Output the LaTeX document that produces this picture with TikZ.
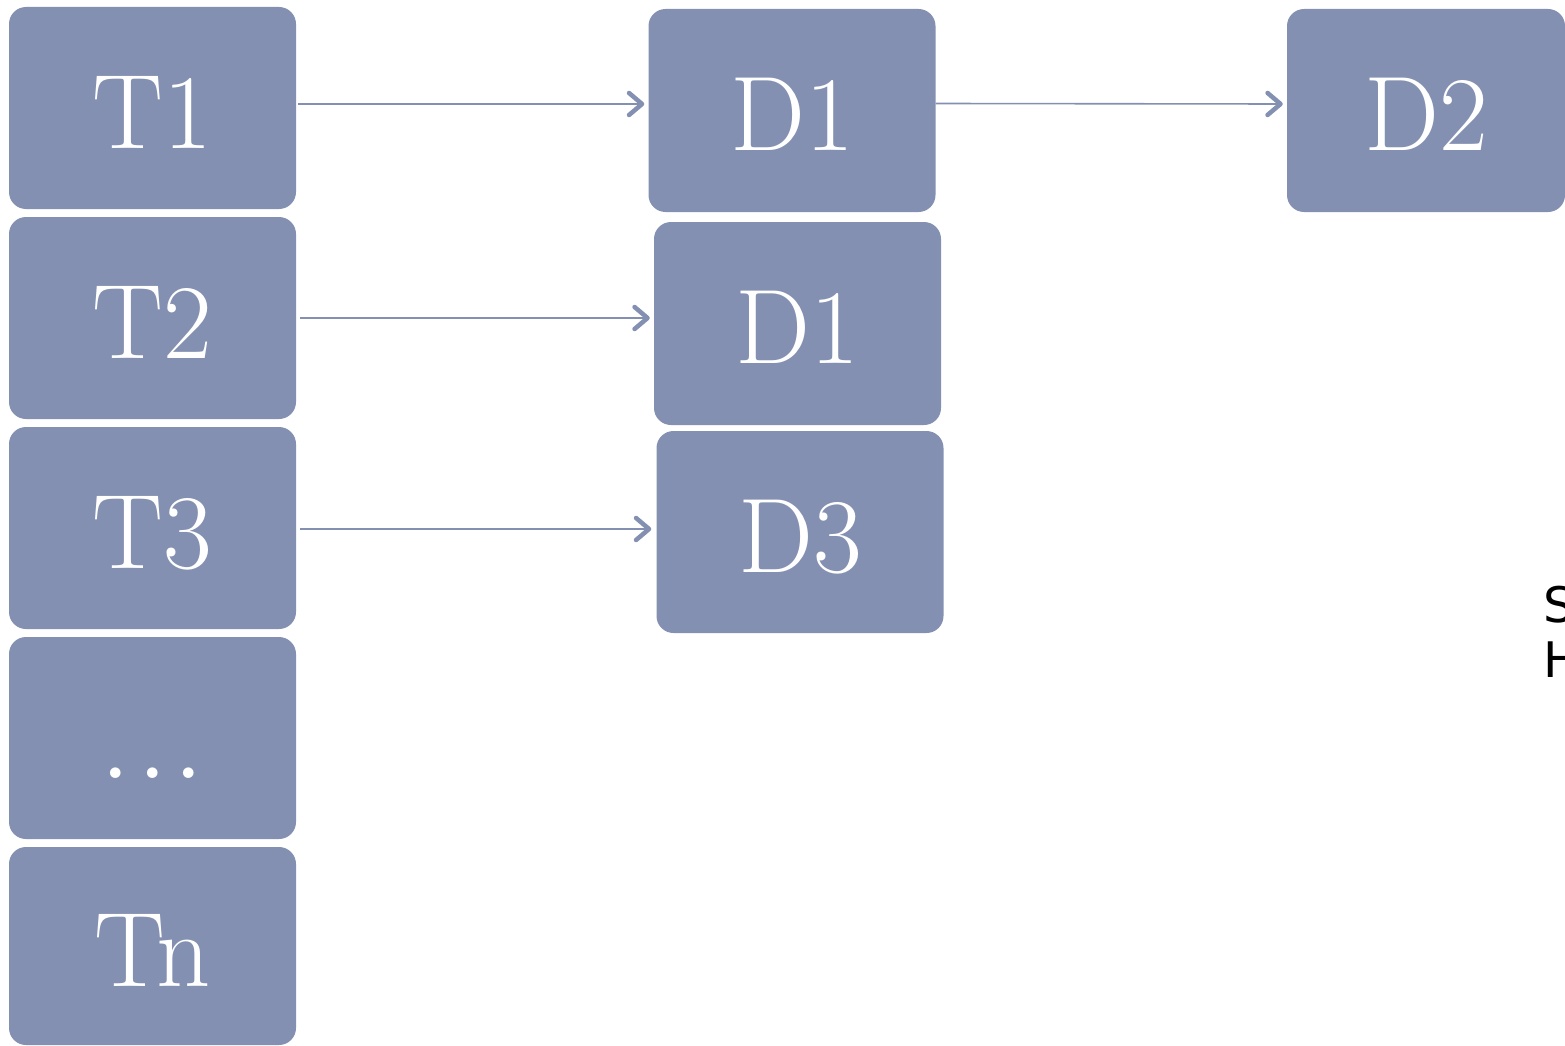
\documentclass[tikz,border=0pt]{standalone}
\usepackage{fontspec}
\newfontfamily\labelfont{DejaVu Sans}
\usetikzlibrary{arrows.meta}
\definecolor{boxblue}{HTML}{8390B1}
\begin{document}
\begin{tikzpicture}[x=1pt,y=-1pt,
  box/.style={fill=boxblue, draw=none, rounded corners=17pt, text=white,
    font=\fontsize{106}{106}\selectfont, text height=80pt, text depth=0pt,
    inner sep=0pt},
  tbox/.style={box, minimum width=287pt, minimum height=202pt},
  arr/.style={draw=boxblue, line width=1.6pt,
    -{Straight Barb[length=13pt, width=22pt, line width=4.5pt, round]}}
]
\useasboundingbox (0,0) rectangle (1565,1046);

% task column
\node[tbox] (t1) at (152.5,108) {T1};
\node[tbox] (t2) at (152.5,318) {T2};
\node[tbox] (t3) at (152.5,528) {T3};
\node[tbox] (tdots) at (152.5,738) {\fontsize{130}{130}\selectfont .\kern4pt.\kern4pt.};
\node[tbox, minimum height=198pt] (tn) at (152.5,946) {Tn};

% data column
\node[tbox, minimum height=203pt] (d1a) at (792,110.5) {D1};
\node[tbox, minimum height=203pt] (d1b) at (797.5,323.5) {D1};
\node[tbox] (d3) at (800,532) {D3};
\node[box, minimum width=278pt, minimum height=203pt] (d2) at (1426,110.5) {D2};

% connectors
\draw[arr] ([xshift=2pt,yshift=4pt]t1.east) -- ([xshift=-4pt,yshift=6.5pt]d1a.west);
\draw[arr] ([xshift=4pt]t2.east) -- ([xshift=-4pt,yshift=5.5pt]d1b.west);
\draw[arr] ([xshift=4pt,yshift=-1pt]t3.east) -- ([xshift=-5pt,yshift=3pt]d3.west);
\draw[arr] ([yshift=7pt]d1a.east) -- ([xshift=-4pt,yshift=6.5pt]d2.west);

% side label
\node[anchor=north west, inner sep=0pt, align=left,
  font=\labelfont\fontsize{49}{55}\selectfont] (side) at (1543,586) {S\\H};
\end{tikzpicture}
\end{document}
